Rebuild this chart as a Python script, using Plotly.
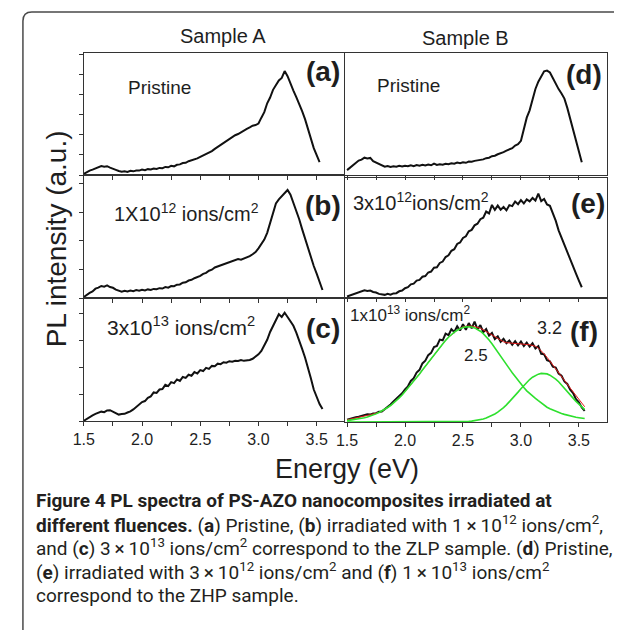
import numpy as np
import plotly.graph_objects as go

W, H = 622, 630

# Energy grid (eV)
energy = np.round(np.arange(1.5, 3.5501, 0.025), 3).tolist()

# Sample A
pl_a = [1.0, 2.4, 3.6, 4.4, 5.6, 6.5, 7.4, 6.8, 7.2, 6.0, 5.4, 4.2, 3.3, 2.6, 3.1, 2.5, 3.4, 3.0, 3.7, 3.6,
        4.4, 4.0, 4.8, 4.5, 5.3, 4.9, 5.8, 5.6, 6.6, 6.3, 7.5, 7.1, 8.4, 8.7, 9.8, 10.0, 11.3, 11.9, 13.0, 13.6,
        14.8, 16.0, 17.0, 18.6, 19.6, 21.4, 23.0, 24.6, 26.6, 28.0, 29.8, 30.8, 32.6, 33.6, 35.2, 36.3, 37.8, 39.0, 40.4, 40.9,
        42.2, 47.0, 51.5, 58.8, 63.5, 69.8, 74.0, 77.5, 79.6, 85.2, 81.0, 75.8, 69.2, 63.8, 57.2, 52.3, 45.8, 37.8, 29.3, 22.0,
        16.2, 10.6, None]
pl_b = [0.8, 2.6, 4.2, 5.4, 7.6, 8.4, 9.8, 9.2, 10.2, 8.9, 8.3, 6.8, 6.0, 5.2, 5.9, 5.3, 6.1, 5.6, 6.4, 5.9,
        6.6, 6.2, 7.0, 6.6, 7.4, 7.1, 8.0, 7.7, 8.9, 8.4, 9.7, 9.6, 10.8, 11.0, 12.4, 12.8, 14.2, 14.8, 16.1, 16.9,
        18.0, 19.6, 20.4, 22.2, 23.0, 24.8, 25.6, 26.9, 27.6, 28.6, 29.1, 30.2, 30.4, 31.6, 31.2, 32.2, 32.6, 34.0, 35.6, 37.4,
        40.4, 43.6, 47.5, 53.0, 61.0, 69.8, 76.8, 80.2, 82.6, 85.4, 87.8, 84.0, 77.5, 70.5, 64.0, 56.0, 48.2, 41.0, 33.6, 26.0,
        19.8, 12.5, 6.5]
pl_c = [0.2, 1.8, 3.4, 4.6, 5.8, 6.6, 7.6, 7.2, 8.6, 8.8, 7.4, 6.0, 5.2, 5.6, 5.8, 6.9, 7.8, 9.4, 11.6, 13.2,
        15.4, 16.2, 18.8, 20.0, 23.2, 22.8, 25.6, 26.0, 29.4, 28.4, 31.6, 30.8, 33.8, 32.6, 35.8, 35.0, 37.6, 36.8, 39.8, 38.6,
        41.4, 40.6, 43.2, 42.4, 44.8, 44.6, 46.6, 46.2, 47.8, 47.4, 48.6, 48.2, 49.0, 48.8, 49.6, 48.9, 49.2, 49.6, 50.6, 52.4,
        54.2, 57.0, 61.4, 66.0, 72.4, 77.0, 81.4, 86.8, 84.6, 88.0, 84.6, 81.2, 77.4, 71.8, 66.0, 58.6, 51.6, 44.0, 34.8, 25.6,
        19.6, 13.8, 9.8]

# Sample B
pl_d = [4.0, 6.0, 8.4, 9.6, 11.8, 12.6, 14.2, 13.6, 14.0, 11.4, 10.2, 8.6, 7.4, 6.8, 7.4, 6.6, 7.2, 6.8, 7.6, 7.0,
        7.6, 7.2, 8.0, 7.3, 8.2, 7.6, 8.4, 7.8, 8.6, 8.0, 9.4, 8.2, 8.8, 8.4, 9.2, 8.8, 9.6, 9.2, 10.2, 9.6,
        10.4, 10.0, 11.0, 10.8, 11.6, 11.8, 12.6, 12.8, 13.8, 14.2, 15.4, 15.8, 17.0, 17.6, 18.8, 20.0, 21.2, 22.0, 24.2, 25.2,
        28.0, 38.0, 47.0, 53.0, 62.0, 70.5, 76.5, 80.5, 85.0, 85.6, 84.0, 79.5, 74.6, 70.4, 66.8, 62.6, 55.0, 46.0, 37.5, 28.0,
        18.0, 10.5, None]
pl_e = [0.4, 1.2, 2.4, 3.0, 4.2, 4.8, 5.6, 5.0, 5.4, 4.2, 3.8, 2.6, 2.4, 1.8, 2.6, 1.9, 3.0, 3.2, 4.8, 5.4,
        7.4, 8.2, 10.6, 11.2, 13.8, 14.4, 17.0, 17.6, 20.6, 21.4, 24.6, 25.0, 28.6, 29.8, 33.6, 35.0, 38.8, 40.2, 44.6, 45.8,
        49.6, 51.0, 55.2, 56.4, 60.2, 61.6, 65.4, 66.6, 71.8, 70.2, 77.4, 73.2, 76.8, 73.4, 75.6, 72.8, 77.2, 76.4, 80.2, 78.0,
        81.4, 78.6, 82.0, 80.4, 83.2, 81.0, 86.8, 80.6, 82.4, 77.8, 76.6, 70.4, 64.2, 56.0, 49.8, 43.0, 37.6, 31.0, 24.8, 19.6,
        13.8, 8.2, None]
pl_f = [1.8, 2.6, 3.0, 3.8, 4.2, 5.0, 5.2, 6.2, 6.0, 7.0, 7.2, 8.4, 8.6, 10.4, 12.0, 14.2, 16.6, 18.8, 21.0, 23.4,
        26.6, 29.0, 33.4, 35.6, 40.2, 42.4, 47.6, 49.8, 54.4, 56.2, 61.0, 61.8, 67.0, 66.4, 71.8, 70.6, 75.4, 73.2, 77.8, 74.4,
        79.6, 75.0, 80.4, 76.2, 81.6, 75.4, 78.8, 73.0, 75.6, 70.2, 72.4, 67.4, 69.6, 65.2, 67.6, 64.0, 66.2, 62.8, 65.8, 62.4,
        65.4, 61.8, 64.6, 61.2, 64.0, 59.8, 61.6, 55.4, 55.0, 50.2, 49.4, 45.0, 44.2, 39.4, 37.6, 33.0, 31.0, 26.2, 23.6, 18.6,
        16.0, 11.8, 9.0]
fit_25 = [1.1, 1.4, 1.7, 2.0, 2.4, 2.9, 3.4, 4.1, 4.8, 5.6, 6.6, 7.7, 8.9, 10.3, 11.8, 13.4, 15.3, 17.3, 19.6, 22.0,
          24.7, 27.4, 30.2, 33.1, 36.1, 39.1, 42.2, 45.3, 48.5, 51.6, 54.8, 57.9, 60.9, 63.8, 66.4, 68.9, 71.1, 73.0, 74.6, 75.8,
          76.8, 77.3, 77.5, 77.2, 76.5, 75.3, 73.8, 71.8, 69.4, 66.6, 63.6, 60.4, 57.0, 53.6, 50.2, 46.8, 43.4, 40.1, 36.9, 33.8,
          30.8, 28.0, 25.3, 23.0, 21.2, 19.2, 17.3, 15.3, 13.4, 12.0, 10.8, 9.7, 8.7, 7.8, 7.0, 6.2, 5.5, 4.9, 4.4, 3.9,
          3.5, 3.1, 2.8]
fit_32 = [0.0, 0.0, 0.0, 0.0, 0.0, 0.0, 0.0, 0.0, 0.0, 0.0, 0.0, 0.0, 0.0, 0.0, 0.0, 0.0, 0.0, 0.0, 0.0, 0.0,
          0.0, 0.0, 0.0, 0.0, 0.0, 0.0, 0.0, 0.0, 0.0, 0.0, 0.0, 0.0, 0.0, 0.0, 0.0, 0.0, 0.0, 0.1, 0.1, 0.2,
          0.3, 0.4, 0.5, 0.7, 1.0, 1.4, 1.8, 2.4, 3.2, 4.1, 5.2, 6.5, 8.0, 9.7, 11.7, 13.9, 16.3, 18.9, 21.6, 24.3,
          27.1, 29.7, 32.2, 34.5, 36.4, 37.9, 38.9, 39.5, 39.6, 39.1, 38.1, 36.7, 34.9, 32.7, 30.2, 27.6, 24.9, 22.1, 19.4, 16.8,
          14.4, 12.2, 10.1]
fit_sum = [1.8, 2.4, 3.0, 3.5, 4.0, 4.5, 5.0, 5.4, 5.9, 6.4, 7.0, 7.8, 8.8, 10.2, 11.8, 13.4, 15.3, 17.3, 19.6, 22.0,
           24.7, 27.4, 30.2, 33.1, 36.1, 39.1, 42.2, 45.3, 48.5, 51.6, 54.8, 57.9, 60.9, 63.8, 66.4, 68.9, 71.1, 73.1, 74.7, 76.0,
           77.4, 77.8, 78.0, 78.0, 77.6, 77.0, 76.2, 75.0, 73.6, 72.0, 70.4, 68.8, 67.4, 66.2, 65.2, 64.5, 64.2, 64.0, 63.8, 63.6,
           63.4, 63.2, 63.0, 62.8, 62.4, 61.6, 60.2, 58.0, 55.4, 52.6, 49.6, 46.6, 43.6, 40.5, 37.2, 34.0, 30.8, 27.6, 24.4, 21.2,
           18.2, 15.2, 12.4]

x_ticks = [1.5, 2.0, 2.5, 3.0, 3.5]
x_tick_labels = ["1.5", "2.0", "2.5", "3.0", "3.5"]
x_minor = [1.75, 2.25, 2.75, 3.25]

FONT = "Liberation Sans, Arial, sans-serif"
CAP_FONT = "Roboto, sans-serif"
INK = "#1e1e1e"
OFF = 8  # page body margin of the html page


def px(x):
    return (x - OFF) / W


def py(y):
    return 1 - (y - OFF) / H


fig = go.Figure()

# key, data, x-domain(px), y-domain(px top,bottom), x-range, y-dtick, labels, yticks
panels = [
    ("", pl_a, (74, 339), (53, 175), (1.5, 3.736), 16.4, False, True),
    ("2", pl_b, (74, 339), (175, 298), (1.5, 3.736), 23.2, False, True),
    ("3", pl_c, (74, 339), (298, 421), (1.5, 3.736), 21.8, True, True),
    ("4", pl_d, (339.5, 607), (53, 175), (1.479, 3.746), 20, False, False),
    ("5", pl_e, (339.5, 607), (178, 297), (1.479, 3.746), 20, False, False),
    ("6", pl_f, (339.5, 607), (299, 422), (1.479, 3.746), 20, True, False),
]

layout_axes = {}
for key, data, xd, yd, xr, ydt, labels, yt in panels:
    fig.add_trace(go.Scatter(x=energy, y=data, mode="lines", xaxis="x" + key, yaxis="y" + key,
                             line=dict(color="#111111", width=2), showlegend=False, hoverinfo="skip"))
    layout_axes["xaxis" + key] = dict(
        domain=[px(xd[0]), px(xd[1])], range=list(xr), anchor="y" + key,
        showline=True, linecolor="#333333", linewidth=1.3, mirror=True,
        showgrid=False, zeroline=False,
        tickmode="array", tickvals=x_ticks, ticktext=x_tick_labels,
        ticks="outside", ticklen=4, tickwidth=1, tickcolor="#333333",
        minor=dict(tickmode="array", tickvals=x_minor, ticks="outside", ticklen=4,
                   tickwidth=1, tickcolor="#333333", showgrid=False),
        showticklabels=labels, tickfont=dict(family=FONT, size=16, color=INK),
    )
    layout_axes["yaxis" + key] = dict(
        domain=[py(yd[1]), py(yd[0])], range=[0, 100], anchor="x" + key,
        showline=True, linecolor="#333333", linewidth=1.3, mirror=True,
        showgrid=False, zeroline=False, showticklabels=False,
        ticks="outside" if yt else "", tick0=0, dtick=ydt, ticklen=4, tickwidth=1, tickcolor="#333333",
    )

# fits in panel (f)
fig.add_trace(go.Scatter(x=energy, y=fit_sum, mode="lines", xaxis="x6", yaxis="y6",
                         line=dict(color="#e41a1a", width=1), showlegend=False, hoverinfo="skip"))
fig.add_trace(go.Scatter(x=energy, y=fit_25, mode="lines", xaxis="x6", yaxis="y6",
                         line=dict(color="#2ee02e", width=1.6), showlegend=False, hoverinfo="skip"))
fig.add_trace(go.Scatter(x=energy, y=fit_32, mode="lines", xaxis="x6", yaxis="y6",
                         line=dict(color="#2ee02e", width=1.6), showlegend=False, hoverinfo="skip"))

ann = []


def text(x, y, s, size, anchor="center", bold=False, family=FONT, color=INK, angle=0):
    if bold:
        s = "<b>" + s + "</b>"
    ann.append(dict(x=px(x), y=py(y), xref="paper", yref="paper", text=s, showarrow=False,
                    xanchor=anchor, yanchor="middle", textangle=angle,
                    font=dict(family=family, size=size, color=color)))


text(216, 36, "Sample A", 20)
text(463, 38, "Sample B", 20)
text(46, 239, "PL intensity (a.u.)", 28, angle=-90)
text(342, 469, "Energy (eV)", 27)

text(317, 72, "(a)", 28, bold=True)
text(317, 205, "(b)", 28, bold=True)
text(317, 328, "(c)", 28, bold=True)
text(583, 75, "(d)", 28, bold=True)
text(587, 203, "(e)", 28, bold=True)
text(583, 331, "(f)", 28, bold=True)

text(151, 87, "Pristine", 19)
text(405, 85, "Pristine", 19)
text(103, 213, "1X10<sup>12</sup> ions/cm<sup>2</sup>", 20, anchor="left")
text(96, 326, "3x10<sup>13</sup>\u00a0ions/cm<sup>2</sup>", 21, anchor="left")
text(346, 201, "3x10<sup>12</sup>ions/cm<sup>2</sup>", 20, anchor="left")
text(343, 314, "1x10<sup>13</sup>\u00a0ions/cm<sup>2</sup>", 17, anchor="left")
text(473, 355, "2.5", 17)
text(548, 328, "3.2", 18)

caption = [
    "<b>Figure 4 PL spectra of PS-AZO nanocomposites irradiated at</b>",
    "<b>different fluences.</b> (<b>a</b>) Pristine, (<b>b</b>) irradiated with 1\u2009×\u200910<sup>12</sup> ions/cm<sup>2</sup>,",
    "and (<b>c</b>) 3\u2009×\u200910<sup>13</sup> ions/cm<sup>2</sup> correspond to the ZLP sample. (<b>d</b>) Pristine,",
    "(<b>e</b>) irradiated with 3\u2009×\u200910<sup>12</sup> ions/cm<sup>2</sup> and (<b>f</b>) 1\u2009×\u200910<sup>13</sup> ions/cm<sup>2</sup>",
    "correspond to the ZHP sample.",
]
cap_y = [500, 524, 547, 571, 595]
for line, yy in zip(caption, cap_y):
    text(23, yy, line, 19, anchor="left", family=CAP_FONT, color="#231f20")

fig.update_layout(
    width=W, height=H, margin=dict(l=0, r=0, t=0, b=0),
    paper_bgcolor="white", plot_bgcolor="white",
    annotations=ann,
    shapes=[dict(type="path", xref="paper", yref="paper",
                 path=f"M {px(12)},{py(660)} L {px(12)},{py(21)} Q {px(12)},{py(12)} {px(21)},{py(12)} L {px(660)},{py(12)}",
                 line=dict(color="#4a4a4a", width=1.5))],
    **layout_axes,
)

fig.write_html("out.html")
